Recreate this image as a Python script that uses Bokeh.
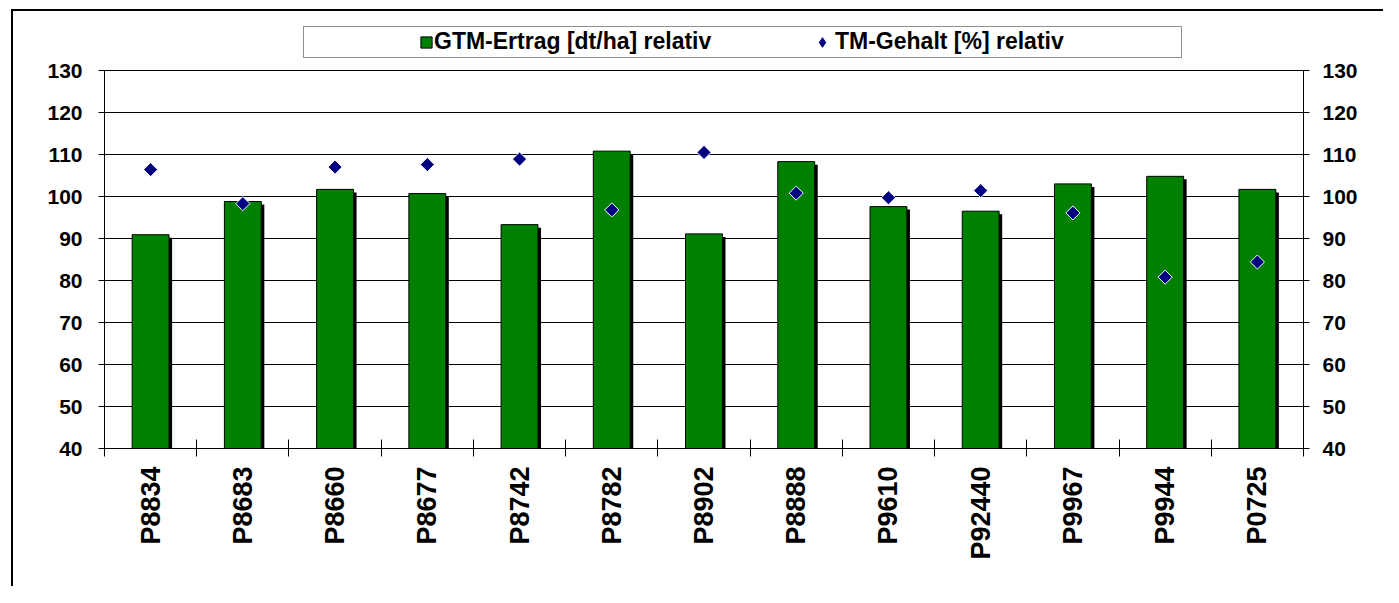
import math
from bokeh.plotting import figure
from bokeh.layouts import column
from bokeh.models import (ColumnDataSource, FactorRange, Range1d, LinearAxis, FixedTicker,
                          Legend, LegendItem)
from bokeh.transform import dodge
from bokeh.embed import file_html
from bokeh.resources import INLINE

# ---- data ----
categories = ["P8834", "P8683", "P8660", "P8677", "P8742", "P8782", "P8902",
              "P8888", "P9610", "P92440", "P9967", "P9944", "P0725"]
gtm_ertrag = [90.9, 98.8, 101.7, 100.7, 93.3, 110.8, 91.1, 108.3, 97.6, 96.5, 103.0, 104.8, 101.7]
tm_gehalt = [106.4, 98.3, 107.0, 107.6, 108.9, 96.8, 110.5, 100.8, 99.7, 101.4, 96.1, 80.8, 84.4]
y_ticks = [40, 50, 60, 70, 80, 90, 100, 110, 120, 130]
series_names = ["GTM-Ertrag [dt/ha] relativ", "TM-Gehalt [%] relativ"]

FONT = "Liberation Sans"
GREEN = "#008000"
NAVY = "#000080"
W = 1370

src = ColumnDataSource(dict(cat=categories, gtm=gtm_ertrag, tm=tm_gehalt))
x_range = FactorRange(factors=categories)

# ---------------- legend strip ----------------
lt = figure(width=W, height=47, x_range=x_range, y_range=Range1d(0, 1),
            output_backend="svg", toolbar_location=None,
            x_axis_location=None, y_axis_location=None,
            min_border_left=91, min_border_right=80, min_border_top=6, min_border_bottom=0)
lt.xgrid.grid_line_color = None
lt.ygrid.grid_line_color = None
lt.outline_line_color = None
lt.background_fill_color = "white"
lt.border_fill_color = "white"
# legend proxies (hidden renderers of the same data; only their legend glyphs show)
lg_bar = lt.vbar(x="cat", top="gtm", bottom="gtm", width=0.4, source=src, visible=False,
                 fill_color=GREEN, line_color="black", line_width=1)
lg_pt = lt.scatter(x="cat", y="tm", source=src, marker="diamond", size=10, visible=False,
                   fill_color=NAVY, line_color=NAVY, line_width=1)
lg_none = lt.scatter(x="cat", y="tm", source=src, size=1, visible=False,
                     fill_alpha=0, line_alpha=0)

common = dict(orientation="horizontal", padding=0, margin=0, spacing=0,
              inactive_fill_alpha=0, border_line_color=None, background_fill_alpha=0,
              label_text_font=FONT, label_text_font_style="bold", label_text_font_size="23px",
              label_text_color="black")

box = Legend(items=[LegendItem(label=" ", renderers=[lg_none])], location=(199, 0),
             orientation="horizontal", padding=0, margin=0, spacing=0, inactive_fill_alpha=0,
             glyph_width=1, glyph_height=30, label_width=876, label_height=30, label_standoff=0,
             label_text_font_size="1px",
             border_line_color="#202020", border_line_width=1, background_fill_color="white",
             background_fill_alpha=1)
lt.add_layout(box)
leg1 = Legend(items=[LegendItem(label=series_names[0], renderers=[lg_bar])],
              location=(315, 3), glyph_width=14, glyph_height=14, label_standoff=1, **common)
lt.add_layout(leg1)
leg2 = Legend(items=[LegendItem(label=series_names[1], renderers=[lg_pt])],
              location=(706, 3), glyph_width=24, glyph_height=24, label_standoff=1, **common)
lt.add_layout(leg2)

# ---------------- main chart ----------------
p = figure(x_range=x_range, y_range=Range1d(y_ticks[0], y_ticks[-1]),
           width=W, height=528, output_backend="svg", toolbar_location=None,
           min_border_left=91, min_border_top=12, min_border_right=80, min_border_bottom=138)

p.background_fill_color = "white"
p.border_fill_color = "white"
p.outline_line_color = "black"
p.outline_line_width = 1
p.xgrid.grid_line_color = None
p.ygrid.grid_line_color = "black"
p.ygrid.grid_line_width = 1
p.ygrid.ticker = FixedTicker(ticks=y_ticks)

# shadow bars
p.vbar(x=dodge("cat", 0.033, range=x_range), top=dodge("gtm", -0.72), bottom=0, width=0.4,
       source=src, fill_color="black", line_color=None)
p.vbar(x="cat", top="gtm", bottom=0, width=0.4, source=src,
       fill_color=GREEN, line_color="black", line_width=1)
p.scatter(x="cat", y="tm", source=src, marker="square", angle=math.pi / 4, size=10,
          fill_color=NAVY, line_color="white", line_width=1)

# y axes
yax = p.yaxis[0]
ryax = LinearAxis()
p.add_layout(ryax, "right")
for ax, st in ((yax, 16), (ryax, 13)):
    ax.ticker = FixedTicker(ticks=y_ticks)
    ax.major_tick_in = 0
    ax.major_tick_out = 6
    ax.minor_tick_line_color = None
    ax.major_tick_line_color = "black"
    ax.axis_line_color = "black"
    ax.major_label_standoff = st
    ax.major_label_text_font = FONT
    ax.major_label_text_font_style = "bold"
    ax.major_label_text_font_size = "21px"
    ax.major_label_text_color = "black"

# x boundary tick axis (ticks between the categories, in synthetic coordinates)
bax = LinearAxis(ticker=FixedTicker(ticks=list(range(len(categories) + 1))))
bax.major_tick_in = 9
bax.major_tick_out = 8
bax.minor_tick_line_color = None
bax.major_label_text_font_size = "0px"
bax.major_label_text_color = None
bax.major_label_standoff = 0
bax.axis_line_color = "black"
p.add_layout(bax, "below")

# categorical label axis (below the tick axis)
xax = p.xaxis[0]
xax.major_tick_line_color = None
xax.major_tick_in = 0
xax.major_tick_out = 0
xax.axis_line_color = None
xax.major_label_orientation = math.pi / 2
xax.major_label_standoff = 10
xax.major_label_text_font = FONT
xax.major_label_text_font_style = "bold"
xax.major_label_text_font_size = "27px"
xax.major_label_text_color = "black"
p.below.remove(xax)
p.below.append(xax)

layout = column(lt, p, spacing=0,
                styles={"margin-left": "11px", "margin-top": "9px",
                        "border-left": "2px solid black", "border-top": "2px solid black"})

open("out.html", "w").write(file_html(layout, INLINE))
